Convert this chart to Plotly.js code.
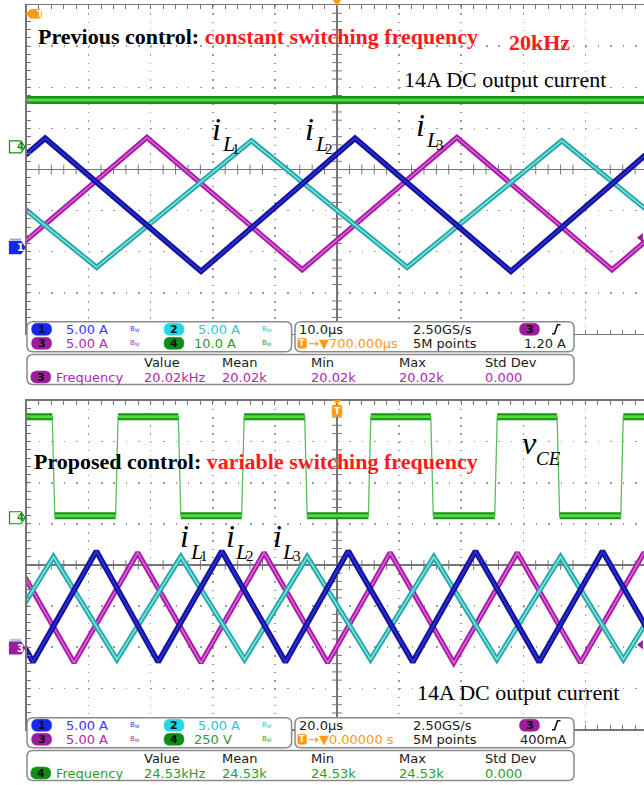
<!DOCTYPE html>
<html>
<head>
<meta charset="utf-8">
<script src="https://cdn.plot.ly/plotly-3.0.1.min.js"></script>
<style>
  html, body { margin: 0; padding: 0; background: #ffffff; }
  #scope { width: 644px; height: 785px; }
</style>
</head>
<body>
<div id="scope"></div>
<script>
// ---------------- captured waveforms ----------------
// Upper capture: 10 µs/div, inductor currents 5 A/div, output current 10 A/div
const topIL1_t = [-63.8, -38.7, -13.8, 11.3, 36.2, 61.2];      // µs
const topIL1_A = [13.0, -2.4, 13.0, -2.4, 13.0, -2.4];          // A
const topIL2_t = [-72.1, -47.0, -21.9, 2.9, 28.0, 52.8];
const topIL2_A = [-2.9, 13.3, -2.9, 13.3, -2.9, 13.3];
const topIL3_t = [-55.6, -30.6, -5.6, 19.3, 44.3, 69.2];
const topIL3_A = [-2.7, 13.4, -2.7, 13.4, -2.7, 13.4];
const topIout_t = [-50, 50];
const topIout_A = [14, 14];

// Lower capture: 20 µs/div, inductor currents 5 A/div, vCE 250 V/div
const botIL1_t = [-111.7, -91.3, -70.9, -50.3, -29.8, -9.6, 10.8, 31.2, 51.5, 72.0, 92.2, 112.7];
const botIL1_A = [-1.4, 11.1, -1.4, 11.1, -1.4, 11.1, -1.4, 11.1, -1.4, 11.1, -1.4, 11.1];
const botIL2_t = [-118.2, -97.9, -77.5, -57.6, -37.1, -16.6, 3.6, 24.4, 44.6, 65.1, 85.5, 106.0];
const botIL2_A = [11.8, -1.7, 11.8, -1.7, 11.8, -1.7, 11.8, -1.7, 11.8, -1.7, 11.8, -1.7];
const botIL3_t = [-105.0, -84.7, -64.2, -43.8, -23.5, -3.0, 17.1, 37.6, 58.1, 78.4, 98.9, 119.3];
const botIL3_A = [11.6, -1.8, 11.6, -1.8, 11.6, -1.8, 11.6, -1.8, 11.6, -1.8, 11.6, -1.8];
const vceFall_t = [-91.3, -50.7, -10.0, 30.6, 71.3];            // µs
const vceRise_t = [-70.9, -30.3, 10.5, 51.2, 91.8];
const vceLow_V = 12, vceHigh_V = 615;
const vceEdge_us = 0.8;

// Scope settings [ch1, ch2, ch3, ch4]
const timePerDiv = [10, 20];
const scaleTop = [5, 5, 5, 10];
const scaleBot = [5, 5, 5, 250];
const unitsTop = ['A', 'A', 'A', 'A'];
const unitsBot = ['A', 'A', 'A', 'V'];
const offsetTop = [-1.9, -1.9, -1.9, 0.29];   // divisions
const offsetBot = [-2.02, -2.02, -2.02, 1.15];
const triggerTop = 1.20, triggerBot = 0.40;   // A on ch3
const freqTop = ['20.02kHz', '20.02k', '20.02k', '20.02k', '0.000'];
const freqBot = ['24.53kHz', '24.53k', '24.53k', '24.53k', '0.000'];

// ---------------- screen geometry ----------------
const W = 644, H = 785;
const DIV_X = 62.1, DIV_Y = 41.1, GRID_LEFT = 26.5, CENTER_X = 337;
const PANEL_CY = [169.5, 565];

const CH_LINE = ['#13139a', '#28a6a6', '#a41ca2', '#1b8f1b'];
const CH_CORE = ['#2e2ed8', '#76e4e4', '#e05ee0', '#4ade3a'];
const CH_TEXT = ['#3636ff', '#2cc4d6', '#ad2aad', '#2c9c2c'];
const CH_BADGE = ['#1428f0', '#22d8e4', '#9c1c9c', '#0e8e18'];
const ORANGE = '#ff9a14';
const GRID = '#9a9a9a', FRAME = '#767676';

const X = px => px / W;
const Y = py => 1 - py / H;
const P = (x, y) => X(x).toFixed(5) + ',' + Y(y).toFixed(5);
function poly(pts, close) {
  return pts.map((p, i) => (i ? 'L' : 'M') + P(p[0], p[1])).join(' ') + (close ? ' Z' : '');
}
function rrect(x0, y0, x1, y1, r) {
  return `M${P(x0 + r, y0)} L${P(x1 - r, y0)} Q${P(x1, y0)} ${P(x1, y0 + r)} L${P(x1, y1 - r)} ` +
         `Q${P(x1, y1)} ${P(x1 - r, y1)} L${P(x0 + r, y1)} Q${P(x0, y1)} ${P(x0, y1 - r)} ` +
         `L${P(x0, y0 + r)} Q${P(x0, y0)} ${P(x0 + r, y0)} Z`;
}
const divToPx = (panel, d) => PANEL_CY[panel] - d * DIV_Y;

const shapes = [];
const annotations = [];
function shape(path, fill, lineColor, lineWidth) {
  shapes.push({ type: 'path', xref: 'paper', yref: 'paper', path: path,
    fillcolor: fill || 'rgba(0,0,0,0)', line: { color: lineColor || 'rgba(0,0,0,0)', width: lineWidth || 0 },
    layer: 'above' });
}
function text(x, y, s, color, size, opts) {
  opts = opts || {};
  annotations.push({ xref: 'paper', yref: 'paper', x: X(x), y: Y(y), text: s, showarrow: false,
    xanchor: opts.anchor || 'left', yanchor: 'middle', borderpad: 0,
    font: { family: opts.family || 'DejaVu Sans', size: size, color: color,
            weight: opts.weight || 'normal', style: opts.style || 'normal' } });
}

// ---------------- traces ----------------
const traces = [];
function wave(t, v, panel, ch, name, outerW, innerW) {
  const sc = panel ? scaleBot : scaleTop, off = panel ? offsetBot : offsetTop;
  const y = v.map(a => a === null ? null : off[ch] + a / sc[ch]);
  const ax = panel ? { xaxis: 'x2', yaxis: 'y2' } : { xaxis: 'x', yaxis: 'y' };
  traces.push(Object.assign({ type: 'scatter', mode: 'lines', x: t, y: y, name: name, hoverinfo: 'skip',
    line: { color: CH_LINE[ch], width: outerW } }, ax));
  if (innerW) traces.push(Object.assign({ type: 'scatter', mode: 'lines', x: t, y: y, name: name, hoverinfo: 'skip',
    line: { color: CH_CORE[ch], width: innerW } }, ax));
}

// centre graticule tick marks (every 1/5 division)
function centreTicks(panel) {
  const tpd = timePerDiv[panel];
  const xmax = (W - CENTER_X) / DIV_X * tpd;
  const hx = [], hy = [], vx = [], vy = [];
  for (let k = -25; k * tpd / 5 <= xmax; k++) { if (k % 5) { hx.push(k * tpd / 5); hy.push(0); } }
  for (let k = -20; k <= 20; k++) { if (k % 5) { vx.push(0); vy.push(k / 5); } }
  const ax = panel ? { xaxis: 'x2', yaxis: 'y2' } : { xaxis: 'x', yaxis: 'y' };
  traces.push(Object.assign({ type: 'scatter', mode: 'markers', x: hx, y: hy, hoverinfo: 'skip',
    marker: { symbol: 'line-ns', size: 7, line: { width: 1, color: FRAME } } }, ax));
  traces.push(Object.assign({ type: 'scatter', mode: 'markers', x: vx, y: vy, hoverinfo: 'skip',
    marker: { symbol: 'line-ew', size: 7, line: { width: 1, color: FRAME } } }, ax));
}
centreTicks(0);
centreTicks(1);

// upper capture
wave(topIout_t, topIout_A, 0, 3, 'output current', 8, 3);
wave(topIL3_t, topIL3_A, 0, 2, 'iL3', 5.2, 1.6);
wave(topIL1_t, topIL1_A, 0, 1, 'iL1', 5.2, 1.6);
wave(topIL2_t, topIL2_A, 0, 0, 'iL2', 5.6, 1.6);

// lower capture: vCE built from its switching edges
(function () {
  const edges = vceFall_t.map(t => ({ t: t, to: vceLow_V }))
    .concat(vceRise_t.map(t => ({ t: t, to: vceHigh_V })))
    .sort((a, b) => a.t - b.t);
  const t0 = -5 * timePerDiv[1], t1 = 5 * timePerDiv[1];
  let level = edges[0].to === vceLow_V ? vceHigh_V : vceLow_V;
  const tx = [t0], vy = [level];
  const fx = [], fy = [];
  let segStart = t0;
  edges.forEach(e => {
    tx.push(e.t - vceEdge_us / 2, e.t + vceEdge_us / 2);
    vy.push(level, e.to);
    fx.push(segStart, e.t - vceEdge_us / 2, null);
    fy.push(level, level, null);
    segStart = e.t + vceEdge_us / 2;
    level = e.to;
  });
  tx.push(t1); vy.push(level);
  fx.push(segStart, t1); fy.push(level, level);
  traces.push({ type: 'scatter', mode: 'lines', x: tx, y: vy.map(v => offsetBot[3] + v / scaleBot[3]),
    xaxis: 'x2', yaxis: 'y2', hoverinfo: 'skip', line: { color: '#5cbc5c', width: 1.3 } });
  wave(fx, fy, 1, 3, 'vCE', 7, 3);
})();
wave(botIL3_t, botIL3_A, 1, 2, 'iL3', 5.2, 1.6);
wave(botIL1_t, botIL1_A, 1, 1, 'iL1', 5.2, 1.6);
wave(botIL2_t, botIL2_A, 1, 0, 'iL2', 5.6, 1.6);

// trigger level arrows on the right edge
[[0, triggerTop], [1, triggerBot]].forEach(([panel, lvl]) => {
  const tpd = timePerDiv[panel];
  const xmax = (W - CENTER_X) / DIV_X * tpd;
  const sc = panel ? scaleBot : scaleTop, off = panel ? offsetBot : offsetTop;
  traces.push({ type: 'scatter', mode: 'markers', x: [xmax - tpd * 0.05], y: [off[2] + lvl / sc[2]],
    xaxis: panel ? 'x2' : 'x', yaxis: panel ? 'y2' : 'y', cliponaxis: false, hoverinfo: 'skip',
    marker: { symbol: 'triangle-left', size: 8, color: CH_BADGE[2] } });
});

// ---------------- axes (graticule) ----------------
function xAxis(panel) {
  const tpd = timePerDiv[panel];
  return {
    domain: [GRID_LEFT / W, 1], range: [-5 * tpd, (W - CENTER_X) / DIV_X * tpd],
    anchor: panel ? 'y2' : 'y', showticklabels: false, tickmode: 'linear', tick0: 0, dtick: tpd,
    ticks: 'inside', ticklen: 4, tickwidth: 1, tickcolor: FRAME,
    showline: true, linecolor: FRAME, linewidth: 1.5, mirror: 'ticks',
    showgrid: true, gridcolor: GRID, gridwidth: 1.5, griddash: '1.5px,' + (DIV_Y / 5 - 1.5).toFixed(2) + 'px',
    zeroline: true, zerolinecolor: FRAME, zerolinewidth: 1.5,
    minor: { tick0: 0, dtick: tpd / 5, ticks: 'inside', ticklen: 4, tickwidth: 1, tickcolor: FRAME, showgrid: false },
    fixedrange: true
  };
}
function yAxis(panel) {
  const cy = PANEL_CY[panel];
  return {
    domain: [1 - (cy + 4 * DIV_Y) / H, 1 - (cy - 4 * DIV_Y) / H], range: [-4, 4],
    anchor: panel ? 'x2' : 'x', showticklabels: false, tickmode: 'linear', tick0: 0, dtick: 1,
    ticks: 'inside', ticklen: 4, tickwidth: 1, tickcolor: FRAME,
    showline: true, linecolor: FRAME, linewidth: 1.5, mirror: false,
    showgrid: true, gridcolor: GRID, gridwidth: 1.5, griddash: '1.5px,' + (DIV_X / 5 - 1.5).toFixed(2) + 'px',
    zeroline: true, zerolinecolor: FRAME, zerolinewidth: 1.5,
    minor: { tick0: 0, dtick: 0.2, ticks: 'inside', ticklen: 4, tickwidth: 1, tickcolor: FRAME, showgrid: false },
    fixedrange: true
  };
}

// ---------------- on-screen markers ----------------
function groundMarker(yc, ch, label, filled) {
  shape(poly([[9.5, yc - 6], [21, yc - 6], [25, yc], [21, yc + 6], [9.5, yc + 6]], true),
        filled ? CH_BADGE[ch] : '#ffffff', CH_BADGE[ch], 1.2);
  text(15.5, yc, '<b>' + label + '</b>', filled ? '#ffffff' : CH_BADGE[ch], 10);
}
// upper capture: ch4 and ch1 grounds (ch2/ch3 stacked under ch1)
groundMarker(divToPx(0, 0.55), 3, '4', false);
shape(poly([[10, divToPx(0, offsetTop[0]) - 8], [21, divToPx(0, offsetTop[0]) - 8]]), null, '#9aa0c8', 2);
groundMarker(divToPx(0, offsetTop[0]), 0, '1', true);
// lower capture: ch4 and ch3 grounds (ch1/ch2 stacked under ch3)
groundMarker(divToPx(1, offsetBot[3]), 3, '4', false);
shape(poly([[10, divToPx(1, offsetBot[2]) - 8], [21, divToPx(1, offsetBot[2]) - 8]]), null, '#8fd8c8', 2.5);
groundMarker(divToPx(1, offsetBot[2]), 2, '3', true);

// trigger position flags
shape(poly([[26, 13.8], [30.5, 9.3], [40, 9.3], [41.7, 11], [41.7, 16.6], [40, 18.3], [30.5, 18.3]], true), ORANGE, ORANGE, 0.5);
text(35.8, 13.9, '<b>T</b>', '#ffffff', 9);
shape(poly([[333, 0], [341, 0], [337, 5.5]], true), ORANGE, ORANGE, 0.5);
shape(poly([[333, 400], [341, 400], [337, 404]], true), ORANGE, ORANGE, 0.5);
shape(rrect(332, 405, 342, 416.5, 2), ORANGE, ORANGE, 0.5);
text(337, 410.8, '<b>T</b>', '#ffffff', 9, { anchor: 'center' });

// ---------------- captions ----------------
const SERIF = 'Liberation Serif';
text(37, 37, "Previous control: <span style='color:#ff1a1a'>constant switching frequency</span>", '#000000', 22,
     { family: SERIF, weight: 'bold' });
text(508, 43, '20kHz', '#ff1a1a', 22, { family: SERIF, weight: 'bold' });
text(403, 80, '14A DC output current', '#000000', 22, { family: SERIF });

text(33, 461, "Proposed control: <span style='color:#ff1a1a'>variable switching frequency</span>", '#000000', 22,
     { family: SERIF, weight: 'bold' });
text(416, 692, '14A DC output current', '#000000', 22, { family: SERIF });
text(521, 443, 'v', '#000000', 32, { family: SERIF, style: 'italic' });
text(535, 458, 'CE', '#000000', 19, { family: SERIF, style: 'italic' });

function iLabel(x, y, n) {
  text(x, y, 'i', '#000000', 32, { family: SERIF, style: 'italic' });
  text(x + 9.5, y + 15, 'L', '#000000', 22, { family: SERIF, style: 'italic' });
  text(x + 20, y + 20, String(n), '#000000', 15, { family: SERIF });
}
iLabel(211, 129, 1); iLabel(304, 129, 2); iLabel(415, 125, 3);
iLabel(179, 536, 1); iLabel(224.5, 536, 2); iLabel(271.5, 536, 3);

// ---------------- readout boxes ----------------
function badge(x0, yc, ch, label) {
  shape(rrect(x0, yc - 6, x0 + 20, yc + 6, 6), CH_BADGE[ch], CH_BADGE[ch], 0.5);
  text(x0 + 10, yc, '<b>' + label + '</b>', '#111111', 11, { anchor: 'center' });
}
function bw(x, yc, ch) {
  text(x, yc, 'B<sub>W</sub>', CH_TEXT[ch], 7);
}
function readout(panel) {
  const dy = panel ? 396 : 0;
  const sc = panel ? scaleBot : scaleTop, un = panel ? unitsBot : unitsTop;
  const lab = ch => sc[ch].toPrecision(3) + ' ' + un[ch];
  const r1 = 329.3 + dy, r2 = 343.3 + dy, h1 = 362 + dy, h2 = 377 + dy;
  shape(rrect(27, 321.7 + dy, 291.6, 351.7 + dy, 6), '#ffffff', '#8a8a8a', 1.5);
  shape(rrect(295, 321.7 + dy, 574, 351.7 + dy, 6), '#ffffff', '#8a8a8a', 1.5);
  shape(rrect(27, 354.5 + dy, 574, 384.5 + dy, 6), '#ffffff', '#8a8a8a', 1.5);

  badge(31.6, r1, 0, '1'); text(65, r1, lab(0), CH_TEXT[0], 13); bw(129, r1, 0);
  badge(164, r1, 1, '2'); text(197, r1, lab(1), CH_TEXT[1], 13); bw(261, r1, 1);
  badge(31.6, r2, 2, '3'); text(65, r2, lab(2), CH_TEXT[2], 13); bw(129, r2, 2);
  badge(164, r2, 3, '4'); text(193, r2, lab(3), CH_TEXT[3], 13); bw(261, r2, 3);

  text(298, r1, (panel ? '20.0' : '10.0') + 'µs', '#1a1a1a', 13);
  text(412, r1, '2.50GS/s', '#1a1a1a', 13);
  badge(519.5, r1, 2, '3');
  shape(poly([[552, r1 + 4.5], [554.5, r1 + 4.5], [557.5, r1 - 4.5], [560.5, r1 - 4.5]]), null, '#111111', 1.6);
  shape(rrect(297.7, r2 - 5, 306.5, r2 + 5, 1.5), ORANGE, ORANGE, 0.5);
  text(302.1, r2, '<b>T</b>', '#ffffff', 8, { anchor: 'center' });
  text(306.5, r2, '→▼' + (panel ? '0.00000 s' : '700.000µs'), ORANGE, 13);
  text(412, r2, '5M points', '#1a1a1a', 13);
  text(567, r2, panel ? (triggerBot * 1000).toFixed(0) + 'mA' : triggerTop.toFixed(2) + ' A', '#1a1a1a', 13,
       { anchor: 'right' });

  const heads = ['Value', 'Mean', 'Min', 'Max', 'Std Dev'];
  const hx = [143, 221, 309.5, 397.5, 484];
  const vals = panel ? freqBot : freqTop;
  const mch = panel ? 3 : 2;
  heads.forEach((h, i) => text(hx[i], h1, h, '#1a1a1a', 13));
  badge(30.8, h2, mch, panel ? '4' : '3');
  text(54.5, h2, 'Frequency', CH_TEXT[mch], 13);
  vals.forEach((v, i) => text(hx[i], h2, v, CH_TEXT[mch], 13));
}
readout(0);
readout(1);

const layout = {
  width: W, height: H, margin: { l: 0, r: 0, t: 0, b: 0 },
  paper_bgcolor: '#ffffff', plot_bgcolor: '#ffffff', showlegend: false,
  xaxis: xAxis(0), yaxis: yAxis(0), xaxis2: xAxis(1), yaxis2: yAxis(1),
  shapes: shapes, annotations: annotations
};
Plotly.newPlot('scope', traces, layout, { staticPlot: true, displayModeBar: false });
</script>
</body>
</html>
